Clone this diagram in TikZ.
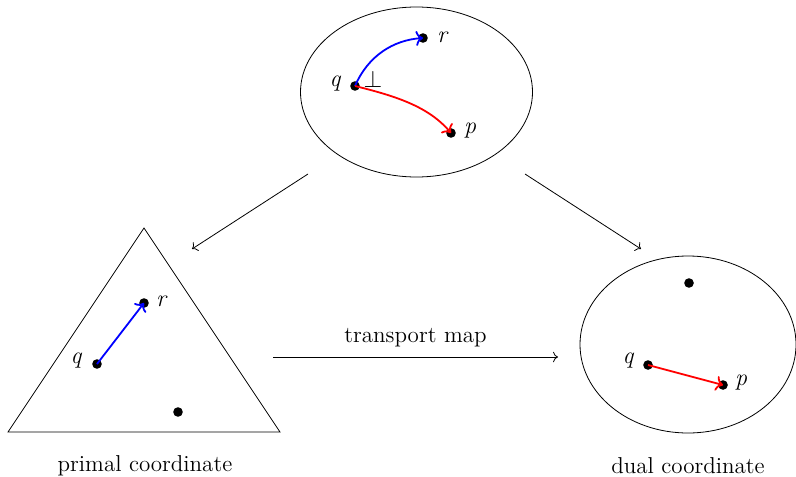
\documentclass[tikz,border=0pt]{standalone}
\usetikzlibrary{arrows.meta}
\tikzset{
  every node/.style={font=\fontsize{11.5}{13.8}\selectfont},
  dot/.style={circle,fill=black,inner sep=0pt,minimum size=4.8pt},
  lbl/.style={font=\fontsize{12}{14}\selectfont\itshape},
  thinarrow/.style={->,line width=0.4pt},
  bluearr/.style={->,blue,line width=0.9pt},
  redarr/.style={->,red,line width=0.9pt},
}
\begin{document}
\begin{tikzpicture}[x=0.5pt,y=-0.5pt]
\useasboundingbox (0,0) rectangle (796,476);
% top ellipse
\draw[line width=0.4pt] (416.5,92) ellipse [x radius=116, y radius=85];
\node[dot] (tq) at (355,86) {};
\node[dot] (tr) at (423,38) {};
\node[dot] (tp) at (451,133) {};
\node[lbl] at (335,84) {q};
\node[lbl] at (442,37) {r};
\node[lbl] at (470,131) {p};
\node (perp) at (373,79) {$\perp$};
\draw[bluearr] (tq.center) .. controls (368,56) and (393,40) .. (tr.center);
\draw[redarr] (tq.center) .. controls (395,96) and (428,106) .. (tp.center);
% arrows down
\coordinate (la1) at (308,174);
\coordinate (la2) at (192,249);
\coordinate (ra1) at (525,174);
\coordinate (ra2) at (641,249);
\draw[thinarrow] (la1) -- (la2);
\draw[thinarrow] (ra1) -- (ra2);
% triangle
\draw[line width=0.4pt] (144,228) -- (8,432) -- (280,432) -- cycle;
\node[dot] (lr) at (144,303) {};
\node[dot] (lq) at (97,364) {};
\node[dot] (lo) at (178,412) {};
\node[lbl] at (161,301) {r};
\node[lbl] at (76,361) {q};
\draw[bluearr] (lq.center) -- (lr.center);
\node (primal) at (145,466) {primal coordinate};
% transport
\coordinate (t1) at (273,357);
\coordinate (t2) at (558,357);
\draw[thinarrow] (t1) -- node[above=1.5pt] {transport map} (t2);
% right ellipse
\draw[line width=0.4pt] (688,344.5) ellipse [x radius=108, y radius=88.5];
\node[dot] (ro) at (689,283) {};
\node[dot] (rq) at (648,365) {};
\node[dot] (rp) at (723,385) {};
\node[lbl] at (628,361) {q};
\node[lbl] at (741,383) {p};
\draw[redarr] (rq.center) -- (rp.center);
\node (dual) at (688,466) {dual coordinate};
\end{tikzpicture}
\end{document}
